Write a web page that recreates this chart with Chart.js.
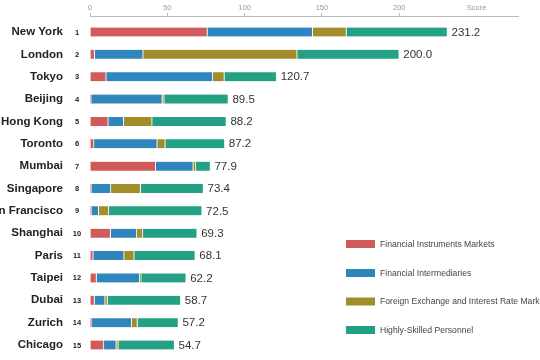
<!DOCTYPE html>
<html>
<head>
<meta charset="utf-8">
<script src="https://cdn.jsdelivr.net/npm/chart.js@4/dist/chart.umd.min.js"></script>
<style>
html,body{margin:0;padding:0;background:#fff;}
#wrap{width:540px;height:360px;position:relative;}
</style>
</head>
<body>
<div id="wrap"><canvas id="c" width="540" height="360"></canvas></div>
<script>
const cities = ["New York","London","Tokyo","Beijing","Hong Kong","Toronto","Mumbai","Singapore","San Francisco","Shanghai","Paris","Taipei","Dubai","Zurich","Chicago"];
const ranks = [1,2,3,4,5,6,7,8,9,10,11,12,13,14,15];
const totals = [231.2,200.0,120.7,89.5,88.2,87.2,77.9,73.4,72.5,69.3,68.1,62.2,58.7,57.2,54.7];
const financialInstrumentsMarkets = [75.9,3.0,10.5,0.8,11.8,2.6,42.5,1.2,1.0,13.3,2.1,4.2,2.9,1.2,9.0];
const financialIntermediaries     = [68.1,31.4,68.9,46.0,10.0,40.9,24.3,12.3,4.6,17.0,20.0,28.0,6.9,25.8,8.0];
const foreignExchange             = [21.8,99.6,7.5,1.2,18.4,5.2,1.7,19.2,6.6,3.9,6.5,0.9,1.5,3.7,1.3];
const highlySkilled               = [65.4,66.0,33.8,41.5,48.0,38.5,9.4,40.7,60.3,35.1,39.5,29.1,47.4,26.5,36.4];
const seriesNames = ["Financial Instruments Markets","Financial Intermediaries","Foreign Exchange and Interest Rate Markets","Highly-Skilled Personnel"];
const seriesColors = ["#d05b5a","#2f86bd","#a38d2b","#24a084"];
const xTicks = [0,50,100,150,200];
const axisTitle = "Score";

const seriesValues = [financialInstrumentsMarkets, financialIntermediaries, foreignExchange, highlySkilled];
const datasets = seriesValues.map((vals, s) => ({
  label: seriesNames[s],
  data: vals.map((v, i) => ({x: v, y: i})),
  backgroundColor: seriesColors[s],
  borderColor: "#ffffff",
  borderWidth: {left: 0, right: 1, top: 0, bottom: 0},
  borderSkipped: false,
  barThickness: 9
}));

const FONT = "'Liberation Sans', Arial, Helvetica, sans-serif";

const overlay = {
  id: "overlay",
  afterDatasetsDraw(chart) {
    const ctx = chart.ctx;
    const xs = chart.scales.x, ys = chart.scales.y;
    ctx.save();
    ctx.textBaseline = "middle";
    cities.forEach((c, i) => {
      const y = ys.getPixelForValue(i);
      ctx.fillStyle = "#222";
      ctx.font = "bold 11.5px " + FONT;
      ctx.textAlign = "right";
      ctx.fillText(c, 63, y);
      ctx.font = "bold 7.5px " + FONT;
      ctx.textAlign = "center";
      ctx.fillText(String(ranks[i]), 77, y + 0.5);
      ctx.font = "11.5px " + FONT;
      ctx.textAlign = "left";
      ctx.fillStyle = "#333";
      ctx.fillText(totals[i].toFixed(1), xs.getPixelForValue(totals[i]) + 4, y + 0.5);
    });
    // legend
    const ly = [244, 273, 301.5, 330];
    seriesNames.forEach((n, s) => {
      ctx.fillStyle = seriesColors[s];
      ctx.fillRect(346, ly[s] - 4, 29, 8);
      ctx.fillStyle = "#444";
      ctx.font = "8.6px " + FONT;
      ctx.textAlign = "left";
      ctx.fillText(n, 380, ly[s] + 0.5);
    });
    ctx.restore();
  }
};

new Chart(document.getElementById("c"), {
  type: "bar",
  data: { datasets },
  options: {
    indexAxis: "y",
    responsive: false,
    animation: false,
    layout: { padding: { left: 90, right: 22, top: 0, bottom: 0 } },
    plugins: { legend: { display: false }, tooltip: { enabled: false } },
    scales: {
      x: {
        type: "linear",
        position: "top",
        stacked: true,
        min: 0,
        max: 276.8,
        afterBuildTicks(scale) {
          scale.ticks = xTicks.concat([250]).map(v => ({value: v}));
        },
        afterFit(scale) { scale.height = 16; },
        ticks: {
          font: { size: 7.5, family: FONT },
          color: "#999",
          padding: 1,
          maxRotation: 0,
          callback: (v) => v === 250 ? axisTitle : String(v)
        },
        grid: {
          drawOnChartArea: false,
          tickLength: 3,
          color: (ctx) => (ctx.tick && ctx.tick.value === 250) ? "rgba(0,0,0,0)" : "#bbb"
        },
        border: { display: true, color: "#bbb", width: 1 }
      },
      y: {
        type: "linear",
        stacked: true,
        reverse: true,
        offset: false,
        min: -0.7157,
        max: 14.671,
        display: false
      }
    }
  },
  plugins: [overlay]
});
</script>
</body>
</html>
